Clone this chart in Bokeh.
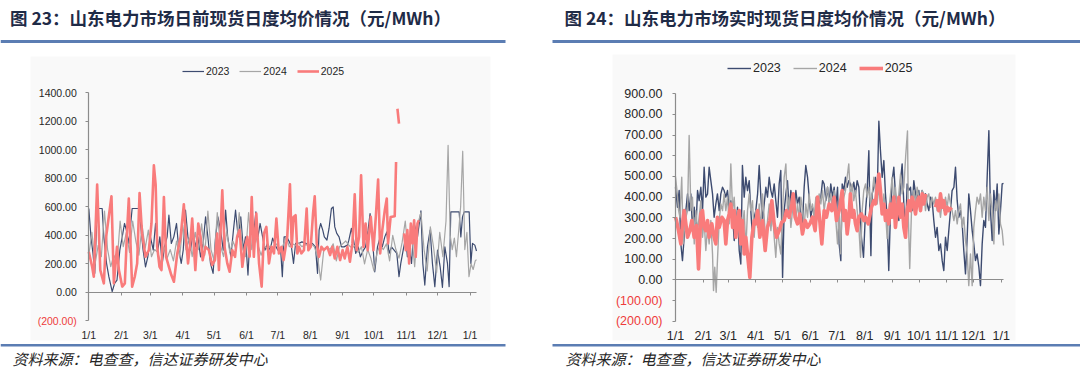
import math
from bokeh.plotting import figure
from bokeh.models import (Range1d, FixedTicker, LinearAxis, Legend, LegendItem,
                          Label, BoxAnnotation)
from bokeh.layouts import row
from bokeh.embed import file_html
from bokeh.resources import INLINE

nan = float("nan")

# ---------------- data ----------------
MONTH_DAYS = [0, 31, 59, 90, 120, 151, 181, 212, 243, 273, 304, 334, 365]
MONTH_LABELS = ["1/1", "2/1", "3/1", "4/1", "5/1", "6/1", "7/1", "8/1", "9/1",
                "10/1", "11/1", "12/1", "1/1"]
SERIES = ["2023", "2024", "2025"]
L_TICKS = [-200, 0, 200, 400, 600, 800, 1000, 1200, 1400]
R_TICKS = [-200, -100, 0, 100, 200, 300, 400, 500, 600, 700, 800, 900]

TITLE_L = "图 23：山东电力市场日前现货日度均价情况（元/MWh）"
TITLE_R = "图 24：山东电力市场实时现货日度均价情况（元/MWh）"
SOURCE = "资料来源：电查查，信达证券研发中心"

# Left panel (day-ahead), (day of year, price)
L2023 = [(0,588),(2.1,389),(4,273),(5.7,133),(8,588),(12.8,588),(14.4,389),(17,203),(19.2,110),
         (22.4,5),(24.7,63),(27,86),(29.7,296),(32,389),(34.2,483),(36,436),(38.3,343),(41.5,588),
         (48,588),(49.5,483),(52,296),(54.3,179),(56.5,249),(59,389),(61.7,296),(63.9,483),(66.1,296),
         (68,389),(70.3,203),(72.5,319),(75,389),(76.7,541),(79,343),(81.4,389),(84,483),(86.2,296),
         (88.5,203),(90.4,296),(92.6,576),(94.9,389),(97.4,296),(100,436),(102,319),(104.4,389),
         (107,249),(109.5,343),(111.8,529),(114,389),(116.5,203),(119,133),(121.4,389),(123.6,529),
         (126.2,436),(128.7,296),(131,576),(133,389),(136,249),(138.5,436),(140.5,576),(143,389),
         (145.5,529),(148,296),(150,389),(152.4,121),(155,483),(157.5,389),(160,564),(162,389),
         (164,483),(166.4,389),(168.7,296),(171,343),(173.6,296),(176,380),(178.5,330),(181,296),
         (183.7,296),(185.3,109),(187,389),(189.5,389),(192,354),(194,319),(196,203),(198,343),
         (201,343),(204,354),(208,343),(211,331),(214,343),(217,319),(219,133),(220.5,436),(222,483),
         (224,436),(225.5,389),(228,366),(230,448),(232.3,588),(234,599),(235.5,459),(237.4,413),
         (239.6,389),(242,319),(244.4,319),(247.6,331),(249,366),(251.4,448),(253,389),(255.6,273),
         (258,319),(260,249),(263,296),(265,319),(267.4,436),(269.3,553),(271.5,389),(273.8,144),
         (276.4,319),(279,389),(281,319),(283.4,389),(285.3,424),(287.5,273),(289.8,319),(292.3,296),
         (294.9,273),(297,109),(298.7,203),(301,296),(303.5,389),(305,249),(306.7,319),(309,203),
         (311.5,483),(314.7,389),(318,571),(319.8,203),(321.7,51),(324.2,319),(326.8,436),(329,203),
         (331.3,40),(333.9,296),(336.4,179),(338.6,35),(340.9,319),(343.4,203),(345,40),(346.6,564),
         (354.6,564),(356.2,389),(357.8,529),(359.4,564),(364.2,564),(365.8,203),(367.4,343),
         (369.6,331),(371.2,290)]

L2024 = [(0,260),(3,420),(6,200),(9,330),(12,250),(15,570),(18,300),(21,180),(24,260),(27,200),
         (30,500),(33,320),(36,420),(39,280),(42,500),(45,360),(48,260),(51,470),(54,310),(57,436),
         (60,250),(63,300),(66,280),(69,200),(72,320),(75,240),(78,300),(81,220),(84,360),(87,250),
         (90,470),(93,300),(96,380),(99,250),(102,420),(105,300),(108,480),(111,260),(114,570),
         (117,300),(120,220),(123,560),(126,330),(129,250),(132,430),(135,280),(138,360),(141,300),
         (144,560),(147,320),(150,250),(153,560),(156,300),(159,420),(162,330),(165,260),(168,330),
         (171,300),(174,330),(177,310),(180,340),(183,300),(186,330),(189,389),(192,320),(195,340),
         (198,330),(201,345),(204,320),(207,335),(210,330),(213,340),(216,320),(219,250),(222,86),
         (225,300),(228,320),(231,300),(234,340),(237,220),(240,320),(243,340),(246,360),(249,330),
         (252,310),(255,330),(258,280),(261,320),(264,200),(267,300),(270,240),(273,150),(276,280),
         (279,330),(282,300),(285,340),(288,220),(291,400),(294,300),(297,240),(300,350),(303,500),
         (306,250),(309,420),(312,180),(315,480),(318,560),(321,300),(324,150),(327,460),(330,320),
         (333,140),(336,420),(339,250),(342,500),(344,1031),(346,400),(348,300),(350,380),(352,250),
         (354,420),(356,600),(358,990),(360,300),(362,420),(364,110),(366,200),(368,160),(370,220),
         (371.2,230)]

L2025 = [(0,284),(3.2,179),(4.8,109),(8,756),(11,156),(14.4,63),(16.6,389),(21.7,674),(24,63),
         (27,319),(28.8,156),(32,40),(34.5,63),(36.7,436),(38.3,658),(41.5,40),(44,109),(46.3,203),
         (48.6,697),(51,413),(54.3,249),(57.5,296),(60,483),(62.3,891),(64,756),(65.5,319),(67.7,179),
         (69.6,156),(71.9,669),(74,249),(76.7,179),(79,121),(81.5,74),(84.7,273),(87.9,389),(91,618),
         (92.7,413),(95,203),(97.4,366),(99,518),(102,156),(104.8,483),(107,389),(109,226),(111.8,319),
         (115,296),(118,191),(120.8,226),(123,413),(124.6,156),(127.8,716),(130,319),(132.6,203),
         (134.8,144),(137.4,296),(140,249),(142,389),(144.4,436),(147,179),(149.5,319),(151.8,389),
         (154,249),(156,669),(158,249),(160.4,553),(163,203),(165.5,40),(167.7,413),(170,459),
         (172.5,203),(175,319),(177.3,273),(179.6,518),(182,273),(184.5,319),(186.5,226),(190,389),
         (192.6,758),(194.3,319),(196,529),(198,541),(199.7,273),(201.3,319),(203.5,273),(206,296),
         (208.6,588),(210.2,296),(212.5,319),(214.7,553),(216.3,674),(218.2,343),(220.4,249),
         (222.7,319),(225,296),(228.4,319),(231,261),(233.2,319),(235.5,238),(238,319),(240.6,226),
         (243,296),(245,238),(247.6,319),(250,214),(252.4,343),(254.6,688),(256.5,296),(258.8,389),
         (260.7,821),(263,319),(265,483),(267,296),(270,529),(272.5,296),(274.8,529),(277,791),
         (279,273),(281,436),(283.4,576),(285.3,658),(286.5,343),(289,529),(292.9,534),(294.2,914),
         (294.8,nan),(295.5,1288),(297,1183),(298,nan),(301.9,413),(303.5,296),(305,436),(306.7,203),
         (308.3,483),(310,343),(311.5,506),(313,249),(314.7,483),(316,506)]

# Right panel (real-time)
R2023 = [(0,448),(2.2,351),(4.1,432),(6,174),(7.8,93),(9.7,206),(11.6,335),(13.5,416),(15.3,335),
         (17.2,416),(19,254),(21,351),(22.8,238),(24.7,432),(26.5,383),(28.4,448),(30.3,335),
         (32.1,545),(34,400),(35.9,416),(37.7,545),(39.6,480),(41.5,416),(43.3,303),(45.2,367),
         (47,416),(49,335),(50.8,416),(52.7,448),(54.5,432),(56.4,400),(58.3,432),(60.2,335),(62,383),
         (63.9,319),(65.8,190),(67.6,254),(69.5,351),(71.4,142),(73.2,77),(75,553),(77,400),
         (78.8,496),(80.7,432),(82.6,480),(84.4,335),(86.3,206),(88.2,303),(90,335),(92,416),
         (93.8,553),(95.7,400),(97.5,287),(99.4,367),(101.3,448),(103.1,400),(105,496),(106.9,432),
         (108.7,400),(110.6,464),(112.4,383),(114.3,303),(116.2,464),(118,529),(120,12),(121.8,335),
         (123.7,416),(125.5,480),(127.4,335),(129.3,432),(131.1,367),(133,335),(134.9,432),
         (136.7,367),(138.6,400),(140.5,319),(142.3,271),(144.2,448),(146,553),(148,496),(149.8,400),
         (151.7,303),(153.5,351),(155.4,319),(157.3,254),(159.2,351),(161,367),(162.9,400),
         (164.8,480),(166.6,464),(168.5,383),(170.4,448),(172.2,367),(174,464),(176,400),(177.8,448),
         (179.7,351),(181.6,448),(183.4,174),(185.3,93),(186.8,464),(188.6,432),(190.5,496),
         (192.4,448),(194.2,480),(196,464),(198,432),(199.8,472),(201.7,416),(203.6,480),(205.5,448),
         (208.4,206),(210.7,109),(213,335),(214.8,432),(216.7,625),(217.8,335),(219,117),(220.4,416),
         (222.3,448),(224,496),(226,400),(227.9,767),(229.7,625),(231.6,496),(233.5,577),(235.3,416),
         (237.2,303),(239,45),(241,335),(242.8,480),(244.7,545),(246.5,416),(248.4,351),(250.3,287),
         (252.2,480),(254,561),(255.9,367),(257.8,222),(259.6,464),(261.5,432),(263.4,448),
         (265.2,335),(267.1,480),(269,416),(270.8,383),(272.7,432),(274.6,335),(276.4,432),
         (278.3,400),(280.2,416),(282,367),(283.9,335),(285.8,400),(287.6,383),(289.5,287),
         (291.4,206),(293.2,254),(295.1,142),(297,174),(298.9,93),(300.7,45),(302.6,206),(304.5,142),
         (306.3,238),(308.2,335),(310,432),(312,448),(313.8,545),(315.7,383),(317.5,303),(319.4,335),
         (321.3,271),(323.1,142),(325,29),(326.9,206),(328.7,416),(330.6,335),(332.5,238),(334.3,174),
         (336.2,93),(338,125),(340,61),(341.8,-28),(343.7,174),(345.5,287),(347.4,254),(349.3,496),
         (351.2,722),(353,335),(354.9,190),(356.8,432),(358.6,335),(360.5,464),(362.4,222),
         (364.2,335),(366.1,464),(367.6,467)]

R2024 = [(0,500),(2,416),(3.5,335),(4.9,303),(7,496),(8.6,174),(10.8,287),(13.5,335),(15.3,698),
         (17.2,335),(19,400),(21,174),(22.8,335),(24.7,238),(26.5,303),(28.4,383),(30.3,206),
         (32.1,287),(34,142),(35.9,254),(37.7,174),(39.6,287),(41.5,125),(42.6,-52),(44,61),
         (45.6,-60),(47,93),(49,287),(50.8,367),(52.7,335),(54.5,416),(56.4,335),(58.3,400),
         (60.2,271),(62,561),(64,335),(65.8,400),(67.6,254),(69.5,335),(71.4,206),(73.2,303),(75,254),
         (77,335),(78.8,142),(80.7,335),(82.6,416),(84.4,335),(86.3,383),(88.2,206),(90,335),(92,254),
         (93.8,367),(95.7,238),(97.5,416),(99.4,303),(101.3,174),(103.1,287),(105,367),(106.9,238),
         (108.7,335),(110.6,206),(112.4,109),(114.3,254),(116.2,174),(118,125),(120,335),(121.8,496),
         (123.7,561),(125.5,335),(127.4,400),(129.3,254),(131.1,335),(133,383),(134.9,287),
         (136.7,367),(138.6,303),(140.5,400),(142.3,335),(144.2,254),(146,367),(148,303),(149.8,416),
         (151.7,335),(153.5,367),(155.4,303),(157.3,400),(159.2,335),(161,416),(162.9,367),
         (164.8,432),(166.6,335),(168.5,400),(170.4,448),(172.2,367),(174,416),(176,335),(177.8,432),
         (179.7,287),(181.6,174),(183.4,335),(185,126),(186.8,367),(190.5,432),(194.2,561),(196,400),
         (198,464),(199.8,383),(201.7,432),(203.6,335),(205.5,254),(207.4,109),(209.2,335),(211,432),
         (213,464),(214.8,400),(216.7,448),(218.5,367),(220.4,416),(222.3,496),(224,432),(226,367),
         (227.9,448),(229.7,367),(231.6,335),(233.5,416),(235.3,335),(237.2,200),(239,335),(241,416),
         (242.8,496),(244.7,367),(246.5,448),(248.4,335),(250.3,416),(252.2,512),(254,416),
         (255.9,448),(258,600),(260,720),(261,300),(262.5,55),(264.5,335),(267.1,432),(269,367),
         (270.8,448),(272.7,400),(274.6,335),(276.4,432),(278.3,416),(280.2,335),(282,400),
         (283.9,416),(285.8,351),(287.6,400),(289.5,367),(291.4,400),(293.2,335),(295.1,367),
         (297,303),(298.9,383),(300.7,335),(302.6,400),(304.5,351),(306.3,416),(308.2,367),(310,335),
         (312,287),(313.8,335),(315.7,271),(317.5,335),(319.4,367),(321.3,254),(323.1,303),(325,190),
         (326.9,125),(328.7,-28),(330.6,125),(332.5,-28),(334.3,254),(336.2,335),(338,400),(340,367),
         (341.8,416),(343.7,303),(345.5,400),(347.4,335),(349.3,448),(351.2,287),(353,416),
         (354.9,335),(356.8,174),(358.6,383),(360.5,335),(362.4,416),(364.2,271),(366.1,238),
         (367.6,166)]

R2025 = [(0,303),(1.1,287),(3.4,238),(6,174),(7.8,271),(9.7,335),(11.6,271),(13.5,206),(16,238),
         (18.3,287),(20.9,206),(23.5,263),(25.8,53),(28.4,319),(30.3,335),(32,254),(34,238),
         (35.9,287),(37.7,206),(40.7,271),(43.3,206),(45.2,174),(47,303),(49,254),(52,303),(54.5,287),
         (56.4,174),(58.3,287),(60.2,319),(62,367),(64,254),(65.8,335),(67.6,206),(69.5,287),
         (71.4,335),(73.2,174),(75,287),(77,125),(78.8,206),(81.8,77),(83.3,12),(85.6,206),(88.2,287),
         (90,271),(92,335),(94.5,206),(97.5,287),(100.5,142),(103,254),(105.7,287),(108,383),
         (110.6,271),(113.2,206),(116.2,238),(119,279),(121.8,287),(124.4,335),(127.4,303),
         (130.4,367),(131.9,416),(134,303),(136.7,271),(139.4,319),(142.3,222),(145.3,287),(148,254),
         (150.6,271),(153.5,303),(156.5,238),(159.2,400),(161,319),(164,174),(166.6,335),(169.2,303),
         (172.2,367),(175.2,335),(177.8,400),(180.4,287),(183.4,335),(186.8,432),(188.6,287),
         (190.5,335),(192.4,222),(194.2,287),(196,416),(198,303),(199.8,335),(201.7,271),(203.6,238),
         (205.5,303),(208.4,319),(211,287),(213,303),(216,271),(219.6,351),(222.3,383),(224,367),
         (226,448),(227.9,512),(229.7,432),(231.6,319),(233.5,367),(235.3,287),(237.2,335),(239,271),
         (241,367),(242.8,303),(244.7,400),(246.5,254),(248.4,335),(250.3,400),(252.2,303),(254,367),
         (255.9,254),(257.8,206),(259.6,335),(261.5,383),(263.4,335),(265.2,400),(267.1,367),
         (269,319),(270.8,383),(272.7,400),(274.6,335),(276.4,416),(278.3,367),(280.2,416),
         (285,nan),(291.4,351),(293.2,383),(295.1,335),(297,416),(298.9,351),(300.7,383),(302.6,319),
         (304.5,351),(306.3,335),(309.3,351)]

# ---------------- style ----------------
C23, C24, C25 = "#3d4b70", "#a6a6a6", "#f97b7b"
AX = "#8c8c8c"
TXT = "#262626"
NEG = "#ee3b3b"
RULE = "#5b7db3"
TITLE_C = "#1f2b47"
NUM_FONT = "Liberation Sans"
CJK = "Noto Sans CJK SC"
W, H = 540, 368


def unzip(pairs):
    return [a for a, _ in pairs], [b for _, b in pairs]


def panel(cfg):
    fl, ft, fw, fh = cfg["fl"], cfg["ft"], cfg["fw"], cfg["fh"]
    x0, x1 = 0, cfg["xmax"]
    y0, y1 = cfg["ticks"][0], cfg["ticks"][-1]
    kx = (x1 - x0) / fw
    ky = (y1 - y0) / fh
    xr = Range1d(x0 - fl * kx, x0 + (W - fl) * kx)
    yr = Range1d(y0 - (H - ft - fh) * ky, y1 + ft * ky)
    p = figure(width=W, height=H, min_border=0, x_range=xr, y_range=yr,
               x_axis_type=None, y_axis_type=None,
               output_backend="svg", toolbar_location=None)
    p.xgrid.visible = False
    p.ygrid.visible = False
    p.outline_line_color = None
    p.background_fill_color = "white"
    p.border_fill_color = "white"

    def dx(px):
        return x0 + (px - fl) * kx

    def dy(py):
        return y1 - (py - ft) * ky

    fs = cfg["fs"]
    # light chart panel
    bx0, bx1, by0, by1 = cfg["bg"]
    p.add_layout(BoxAnnotation(left=dx(bx0), right=dx(bx1), top=dy(by0), bottom=dy(by1),
                               fill_color="#f9f9f9", fill_alpha=1, line_color=None,
                               level="underlay"))

    pos = [t for t in cfg["ticks"] if t >= 0]
    neg = [t for t in cfg["ticks"] if t < 0]
    # y axis (positive labels)
    ya = LinearAxis(fixed_location=0, bounds=(y0, y1), ticker=FixedTicker(ticks=cfg["ticks"]),
                    major_label_overrides={t: ("%.2f" % t if t >= 0 else " ") for t in cfg["ticks"]},
                    axis_line_color=AX, axis_line_width=1.2, major_tick_line_color=AX,
                    major_tick_in=0, major_tick_out=3, minor_tick_line_color=None,
                    major_label_standoff=cfg["ystand"], major_label_text_font=NUM_FONT,
                    major_label_text_font_size=fs, major_label_text_color=TXT)
    p.add_layout(ya, "left")
    # y axis negative labels in red
    yn = LinearAxis(fixed_location=0, bounds=(y0, 0), ticker=FixedTicker(ticks=neg),
                    major_label_overrides={t: "(%.2f)" % (-t) for t in neg},
                    axis_line_color=None, major_tick_line_color=None, major_tick_in=0,
                    major_tick_out=3, minor_tick_line_color=None,
                    major_label_standoff=cfg["ystand"], major_label_text_font=NUM_FONT,
                    major_label_text_font_size=fs, major_label_text_color=NEG)
    p.add_layout(yn, "left")
    # zero line with month ticks
    za = LinearAxis(fixed_location=0, bounds=(x0, x1), ticker=FixedTicker(ticks=MONTH_DAYS),
                    axis_line_color=AX, axis_line_width=1.2,
                    major_tick_line_color=AX, major_tick_in=0, major_tick_out=3,
                    minor_tick_line_color=None, major_label_text_color=None,
                    major_label_text_font_size="1px")
    p.add_layout(za, "below")
    # month labels at the bottom
    xa = LinearAxis(fixed_location=y0, bounds=(x0, x1), ticker=FixedTicker(ticks=MONTH_DAYS),
                    major_label_overrides={d: l for d, l in zip(MONTH_DAYS, MONTH_LABELS)},
                    axis_line_color=None, major_tick_line_color=None, major_tick_in=0,
                    major_tick_out=0, minor_tick_line_color=None,
                    major_label_standoff=cfg["xstand"], major_label_text_font=NUM_FONT,
                    major_label_text_font_size=fs, major_label_text_color=TXT)
    p.add_layout(xa, "below")

    rends = []
    for pairs, col, lw in zip(cfg["data"], [C23, C24, C25], cfg["lw"]):
        xs, ys = unzip(pairs)
        rends.append(p.line(xs, ys, line_color=col, line_width=lw, line_join="round"))

    leg = Legend(items=[LegendItem(label=s, renderers=[r]) for s, r in zip(SERIES, rends)],
                 orientation="horizontal", location=cfg["legloc"],
                 glyph_width=cfg["gw"], glyph_height=12, label_height=12,
                 label_standoff=2, spacing=cfg["lspace"], padding=0, margin=0,
                 border_line_color=None, background_fill_alpha=0,
                 label_text_font=NUM_FONT, label_text_font_size=fs, label_text_color=TXT)
    p.add_layout(leg, "center")

    # heading, rules, source
    p.add_layout(Label(x=dx(cfg["tx"]), y=dy(17), text=cfg["title"], text_font=CJK,
                       text_font_style="bold", text_font_size="17.5px", text_color=TITLE_C,
                       text_baseline="middle", text_align="left"))
    p.add_layout(BoxAnnotation(left=dx(cfg["r0"]), right=dx(cfg["r1"]), top=dy(39.5),
                               bottom=dy(42.5), fill_color=RULE, fill_alpha=1,
                               line_color=None, level="overlay"))
    p.add_layout(BoxAnnotation(left=dx(cfg["r0"]), right=dx(cfg["r1"]), top=dy(343.5),
                               bottom=dy(346), fill_color=RULE, fill_alpha=1,
                               line_color=None, level="overlay"))
    p.add_layout(Label(x=dx(cfg["sx"]), y=dy(358), text=SOURCE, text_font=CJK,
                       text_font_style="italic", text_font_size="15px", text_color=TXT,
                       text_baseline="middle", text_align="left"))
    return p


left = panel(dict(fl=88.3, ft=92.3, fw=387.7, fh=228, xmax=371.2, ticks=L_TICKS,
                  fs="10.5px", ystand=9, xstand=8, data=[L2023, L2024, L2025],
                  lw=[1.2, 1.2, 2.6], legloc=(182, 291), gw=22, lspace=10,
                  title=TITLE_L, tx=9.5, r0=0, r1=505, sx=12, bg=(30, 490, 56, 340)))
right = panel(dict(fl=135, ft=93.3, fw=328, fh=227.4, xmax=367.6, ticks=R_TICKS,
                   fs="12.5px", ystand=10, xstand=8, data=[R2023, R2024, R2025],
                   lw=[1.4, 1.4, 3.6], legloc=(187, 293), gw=24, lspace=12,
                   title=TITLE_R, tx=24, r0=12, r1=540, sx=25, bg=(72, 475, 54, 340)))

layout = row(left, right)
open("out.html", "w").write(file_html(layout, INLINE))
